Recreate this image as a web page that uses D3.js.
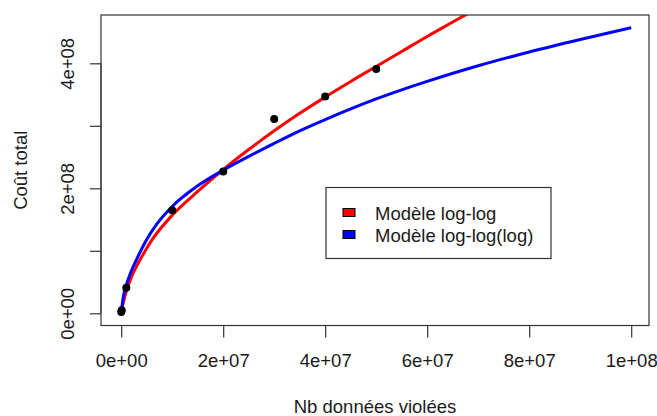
<!DOCTYPE html>
<html>
<head>
<meta charset="utf-8">
<script src="https://cdn.jsdelivr.net/npm/d3@7"></script>
<style>
  body { margin: 0; background: #fff; }
  text { font-family: "Liberation Sans", Arial, sans-serif; fill: #1a1a1a; }
</style>
</head>
<body>
<div id="chart"></div>
<script>
// observed points (Nb données violées, Coût total)
var ptX = [1e4, 1e5, 1e6, 1e7, 2e7, 3e7, 4e7, 5e7];
var ptY = [0.02e8, 0.05e8, 0.41e8, 1.65e8, 2.27e8, 3.11e8, 3.47e8, 3.91e8];

// modèle log-log
var redX = [1e5, 5e5, 1e6, 2e6, 3e6, 4e6, 6e6, 1e7, 1.5e7, 2e7, 2.5e7, 3e7, 3.5e7, 4e7, 4.5e7, 5e7, 5.5e7, 6e7, 6.5e7, 7e7];
var redY = [0.06e8, 0.2e8, 0.35e8, 0.58e8, 0.75e8, 0.9e8, 1.17e8, 1.57e8, 1.95e8, 2.3e8, 2.62e8, 2.92e8, 3.2e8, 3.46e8, 3.71e8, 3.95e8, 4.19e8, 4.43e8, 4.66e8, 4.89e8];

// modèle log-log(log)
var blueX = [1e5, 5e5, 1e6, 2e6, 3e6, 5e6, 7e6, 1e7, 1.5e7, 2e7, 2.5e7, 3e7, 3.5e7, 4e7, 4.5e7, 5e7, 5.5e7, 6e7, 7e7, 8e7, 9e7, 1e8];
var blueY = [0.08e8, 0.3e8, 0.45e8, 0.68e8, 0.86e8, 1.18e8, 1.43e8, 1.71e8, 2.04e8, 2.29e8, 2.51e8, 2.72e8, 2.92e8, 3.1e8, 3.27e8, 3.43e8, 3.575e8, 3.71e8, 3.96e8, 4.18e8, 4.38e8, 4.57e8];

var xTicks = [0, 2e7, 4e7, 6e7, 8e7, 1e8];
var xTickLabels = ["0e+00", "2e+07", "4e+07", "6e+07", "8e+07", "1e+08"];
var yTicks = [0, 1e8, 2e8, 3e8, 4e8];
var yTickLabels = ["0e+00", "", "2e+08", "", "4e+08"];

var legendLabels = ["Modèle log-log", "Modèle log-log(log)"];
var legendColors = ["#ff0000", "#0000ff"];

var w = 657, h = 416;
var pLeft = 101, pRight = 649, pTop = 15, pBottom = 325.5;
var fontSize = "18.5px";

var x = d3.scaleLinear().domain([-0.0396e8, 1.0349e8]).range([pLeft, pRight]);
var y = d3.scaleLinear().domain([-0.195e8, 4.773e8]).range([pBottom, pTop]);

var svg = d3.select("#chart").append("svg").attr("width", w).attr("height", h);

svg.append("clipPath").attr("id", "plotClip")
    .append("rect")
    .attr("x", pLeft).attr("y", pTop)
    .attr("width", pRight - pLeft).attr("height", pBottom - pTop);

var line = d3.line()
    .x(function(d) { return x(d[0]); })
    .y(function(d) { return y(d[1]); })
    .curve(d3.curveMonotoneX);

var curves = svg.append("g").attr("clip-path", "url(#plotClip)");
curves.append("path")
    .datum(redX.map(function(v, i) { return [v, redY[i]]; }))
    .attr("d", line)
    .attr("fill", "none")
    .attr("stroke", legendColors[0])
    .attr("stroke-width", 3);
curves.append("path")
    .datum(blueX.map(function(v, i) { return [v, blueY[i]]; }))
    .attr("d", line)
    .attr("fill", "none")
    .attr("stroke", legendColors[1])
    .attr("stroke-width", 3);

svg.append("g").selectAll("circle")
    .data(ptX.map(function(v, i) { return [v, ptY[i]]; }))
    .enter().append("circle")
    .attr("cx", function(d) { return x(d[0]); })
    .attr("cy", function(d) { return y(d[1]); })
    .attr("r", 4)
    .attr("fill", "#000");

// frame
svg.append("rect")
    .attr("x", pLeft).attr("y", pTop)
    .attr("width", pRight - pLeft).attr("height", pBottom - pTop)
    .attr("fill", "none")
    .attr("stroke", "#333")
    .attr("stroke-width", 1.2);

// x axis
var xAxis = svg.append("g")
    .attr("transform", "translate(0," + pBottom + ")")
    .call(d3.axisBottom(x)
        .tickValues(xTicks)
        .tickSize(12)
        .tickFormat(function(d, i) { return xTickLabels[i]; }));
xAxis.select(".domain").attr("d", "M" + x(xTicks[0]) + ",0H" + x(xTicks[xTicks.length - 1]))
    .attr("stroke", "#333");
xAxis.selectAll(".tick line").attr("stroke", "#333").attr("stroke-width", 1.2);
xAxis.selectAll(".tick text")
    .attr("font-size", fontSize)
    .attr("font-family", "Liberation Sans, Arial, sans-serif")
    .attr("fill", "#1a1a1a")
    .attr("dy", null)
    .attr("y", 41.5);

// y axis
var yAxis = svg.append("g")
    .attr("transform", "translate(" + pLeft + ",0)")
    .call(d3.axisLeft(y)
        .tickValues(yTicks)
        .tickSize(11)
        .tickFormat(function(d, i) { return yTickLabels[i]; }));
yAxis.select(".domain").attr("d", "M0," + y(yTicks[0]) + "V" + y(yTicks[yTicks.length - 1]))
    .attr("stroke", "#333");
yAxis.selectAll(".tick line").attr("stroke", "#333").attr("stroke-width", 1.2);
yAxis.selectAll(".tick text")
    .attr("font-size", fontSize)
    .attr("font-family", "Liberation Sans, Arial, sans-serif")
    .attr("fill", "#1a1a1a")
    .attr("x", null).attr("dy", null)
    .attr("text-anchor", "middle")
    .attr("transform", "translate(-27.5,0) rotate(-90)");

// axis titles
svg.append("text")
    .attr("x", (pLeft + pRight) / 2)
    .attr("y", 412.5)
    .attr("text-anchor", "middle")
    .attr("font-size", fontSize)
    .text("Nb données violées");

svg.append("text")
    .attr("transform", "translate(27," + ((pTop + pBottom) / 2) + ") rotate(-90)")
    .attr("text-anchor", "middle")
    .attr("font-size", fontSize)
    .text("Coût total");

// legend
var lg = svg.append("g");
lg.append("rect")
    .attr("x", 326).attr("y", 187.5)
    .attr("width", 225).attr("height", 71)
    .attr("fill", "#fff")
    .attr("stroke", "#333")
    .attr("stroke-width", 1.2);
legendLabels.forEach(function(label, i) {
    lg.append("rect")
        .attr("x", 343).attr("y", 208.5 + i * 22)
        .attr("width", 12).attr("height", 8)
        .attr("fill", legendColors[i])
        .attr("stroke", "#000")
        .attr("stroke-width", 1);
    lg.append("text")
        .attr("x", 375)
        .attr("y", 219.5 + i * 22)
        .attr("font-size", fontSize)
        .text(label);
});
</script>
</body>
</html>
